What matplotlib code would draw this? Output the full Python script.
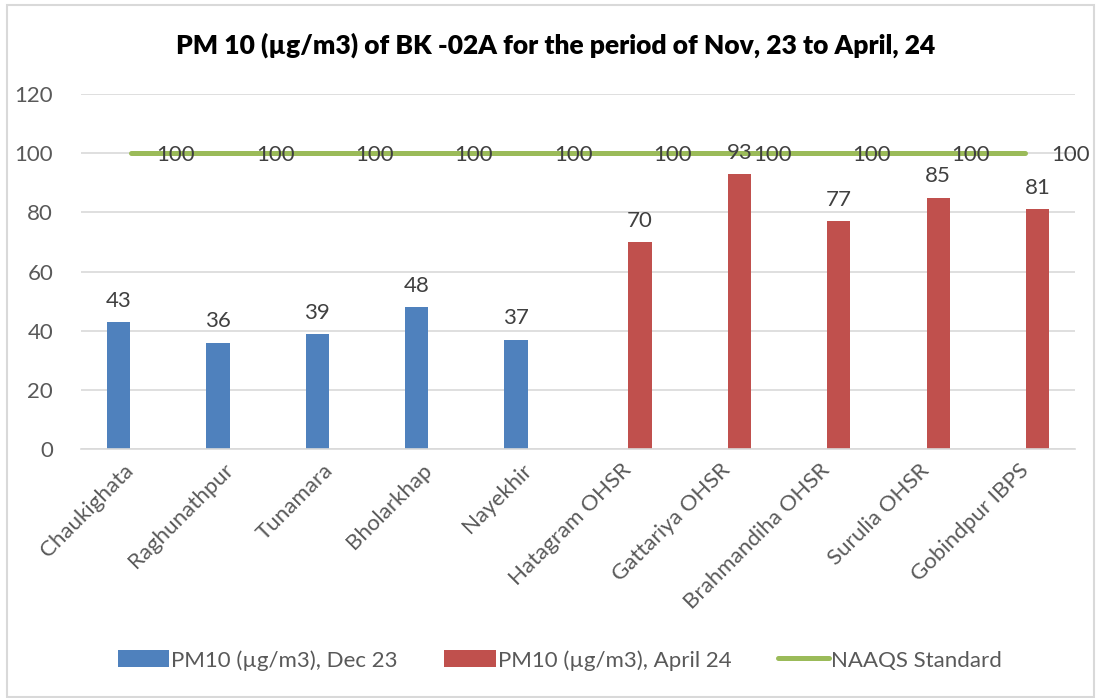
import matplotlib.pyplot as plt
import numpy as np
from matplotlib.patches import Rectangle
from matplotlib.lines import Line2D
from matplotlib.patches import Patch

plt.rcParams["font.family"] = ["Lato", "DejaVu Sans"]

# -------------------------
# Data
# -------------------------
sites = [
    "Chaukighata", "Raghunathpur", "Tunamara", "Bholarkhap", "Nayekhir",
    "Hatagram OHSR", "Gattariya OHSR", "Brahmandiha OHSR", "Surulia OHSR",
    "Gobindpur IBPS",
]
pm10_dec23 = [43, 36, 39, 48, 37, np.nan, np.nan, np.nan, np.nan, np.nan]
pm10_apr24 = [np.nan, np.nan, np.nan, np.nan, np.nan, 70, 93, 77, 85, 81]
naaqs = [100, 100, 100, 100, 100, 100, 100, 100, 100, 100]
y_ticks = [0, 20, 40, 60, 80, 100, 120]

title = "PM 10 (µg/m3) of BK -02A for the period of Nov, 23 to April, 24"
labels = ["PM10 (µg/m3), Dec 23", "PM10 (µg/m3), April 24", "NAAQS Standard"]

BLUE = "#4F81BD"
RED = "#C0504D"
GREEN = "#9BBB59"
TXT = "#595959"
LBL = "#404040"
FS = 16

fig = plt.figure(figsize=(10.96, 6.98), dpi=100)
ax = fig.add_axes([0.0739, 0.3567, 0.9070, 0.5086])

x = np.arange(len(sites))
w = 0.235
off = 0.123

ax.bar(x - off, pm10_dec23, width=w, color=BLUE, zorder=2)
ax.bar(x + off, pm10_apr24, width=w, color=RED, zorder=2)
ax.plot(x, naaqs, color=GREEN, lw=3.6, solid_capstyle="round", zorder=3)

# bar labels
for xs, vals in ((x - off, pm10_dec23), (x + off, pm10_apr24)):
    for xi, v in zip(xs, vals):
        if np.isnan(v):
            continue
        ax.annotate(f"{v:g}", (xi, v), xytext=(0, 8), textcoords="offset points",
                    ha="center", va="bottom", fontsize=FS, color=LBL, zorder=4)

# line labels, right of points
for xi, v in zip(x, naaqs):
    ax.annotate(f"{v:g}", (xi, v), xytext=(18.5, -1), textcoords="offset points",
                ha="left", va="center", fontsize=FS, color=LBL, zorder=4,
                annotation_clip=False)

ax.set_xlim(-0.5, len(sites) - 0.5)
ax.set_ylim(0, 120)
ax.set_yticks(y_ticks)
ax.yaxis.grid(True, color="#D9D9D9", lw=1.2, zorder=0)
ax.set_axisbelow(True)
for s in ("top", "right", "left"):
    ax.spines[s].set_visible(False)
ax.spines["bottom"].set_color("#D9D9D9")
ax.spines["bottom"].set_linewidth(1.2)
ax.tick_params(axis="both", length=0, labelsize=FS, labelcolor=TXT)
ax.tick_params(axis="y", pad=20)
ax.tick_params(axis="x", pad=13)
ax.set_xticks(x)
ax.set_xticklabels(sites, rotation=45, ha="right", va="center",
                   rotation_mode="anchor")

fig.text(0.507, 0.935, title, ha="center", va="center", fontsize=19,
         fontweight="heavy", color="black")

handles = [
    Patch(facecolor=BLUE, edgecolor="none"),
    Patch(facecolor=RED, edgecolor="none"),
    Line2D([0], [0], color=GREEN, lw=3.6, solid_capstyle="round"),
]
fig.legend(handles, labels, loc="center", bbox_to_anchor=(0.511, 0.054),
           ncol=3, frameon=False, fontsize=FS, labelcolor=TXT,
           handlelength=2.3, handleheight=0.8, handletextpad=0.1,
           columnspacing=2.1)

# chart border
fig.patches.append(Rectangle((7 / 1096, 1 / 698), 1087 / 1096, 692 / 698,
                             transform=fig.transFigure, fill=False,
                             edgecolor="#D9D9D9", lw=1.5))

fig.savefig("out.png", dpi=100)
